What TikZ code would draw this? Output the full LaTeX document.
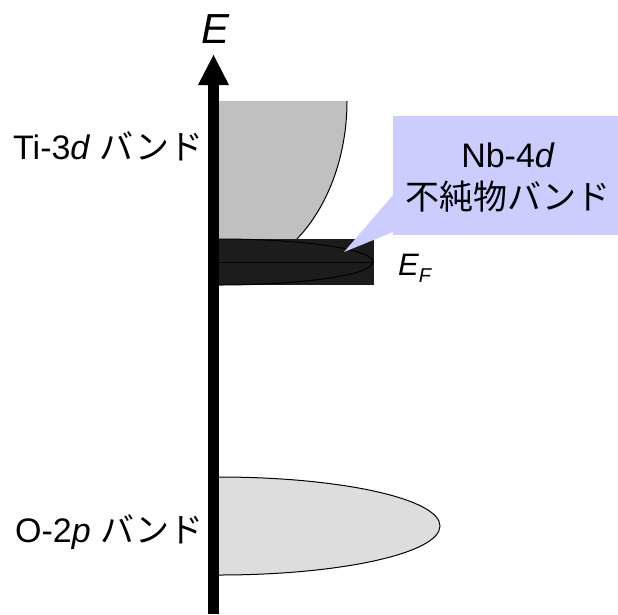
\documentclass[tikz,border=0pt]{standalone}
\usepackage{fontspec}
\setmainfont{Liberation Sans}
\newfontfamily\jpfont{Noto Sans CJK JP}
\definecolor{tigray}{HTML}{C0C0C0}
\definecolor{ogray}{HTML}{DDDDDD}
\definecolor{nbdark}{HTML}{1C1C1C}
\definecolor{callout}{HTML}{CCCCFF}
\tikzset{
  lbl/.style={inner sep=0pt, font=\fontsize{34}{40}\selectfont},
  bandline/.style={draw=black, line width=1pt},
}
\begin{document}
\begin{tikzpicture}[x=1pt,y=-1pt]
\useasboundingbox (0,0) rectangle (618,614);
% Ti-3d band
\fill[tigray] (219,101) -- (347,101)
  -- plot[domain=0:52.5,samples=40] ({219+128*cos(\x)},{101+174*sin(\x)})
  -- (219,239) -- cycle;
\draw[bandline] plot[domain=0:52.5,samples=40] ({219+128*cos(\x)},{101+174*sin(\x)});
% Nb-4d impurity band
\fill[nbdark] (219,239) rectangle (374,285);
\draw[bandline, black] (219,239) arc[start angle=-90, end angle=90, x radius=154, y radius=23];
\draw[bandline, black] (219,262) -- (373,262);
% O-2p band
\draw[bandline, fill=ogray] (219,477) arc[start angle=-90, end angle=90, x radius=221, y radius=49];
% callout
\fill[callout] (393,116) rectangle (618,235);
\fill[callout] (393,195) -- (344,252) -- (393,232) -- cycle;
\node[lbl, anchor=base] (nb) at (508,167) {Nb-4\textit{d}};
\node[lbl, anchor=base] (imp) at (508,209) {\jpfont 不純物バンド};
% axis
\fill[black] (208,85) rectangle (219,614);
\fill[black] (198,85) -- (213.5,55) -- (229,85) -- cycle;
\node[inner sep=0pt, anchor=base, font=\fontsize{42}{48}\selectfont\itshape] (E) at (216,43) {E};
% labels
\node[lbl, anchor=base west] (ti) at (13,159) {Ti-3\textit{d} {\jpfont バンド}};
\node[lbl, anchor=base west] (o) at (15,542) {O-2\textit{p} {\jpfont バンド}};
\node[inner sep=0pt, anchor=base west, font=\fontsize{31}{36}\selectfont\itshape] (EF) at (398,275) {E\raisebox{-7pt}{\fontsize{20}{24}\selectfont F}};
\end{tikzpicture}
\end{document}
